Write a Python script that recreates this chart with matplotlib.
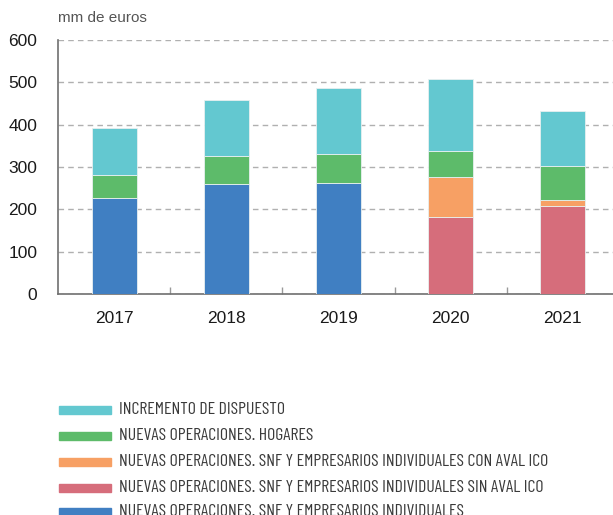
import matplotlib
matplotlib.use('Agg')
import matplotlib.pyplot as plt
from matplotlib.patches import Rectangle
from matplotlib import font_manager

years = ['2017', '2018', '2019', '2020', '2021']

# mm de euros
snf_total = [226, 260, 262, 0, 0]        # nuevas operaciones SNF (sin desglose)
snf_sin_ico = [0, 0, 0, 183, 207]
snf_con_ico = [0, 0, 0, 93, 14]
hogares = [54, 65, 69, 61, 81]
dispuesto = [111, 134, 156, 171, 131]

labels = [
    'INCREMENTO DE DISPUESTO',
    'NUEVAS OPERACIONES. HOGARES',
    'NUEVAS OPERACIONES. SNF Y EMPRESARIOS INDIVIDUALES CON AVAL ICO',
    'NUEVAS OPERACIONES. SNF Y EMPRESARIOS INDIVIDUALES SIN AVAL ICO',
    'NUEVAS OPERACIONES. SNF Y EMPRESARIOS INDIVIDUALES',
]
colors = ['#63C8D0', '#5DBB6A', '#F7A064', '#D66D7B', '#407FC2']

names = {f.name for f in font_manager.fontManager.ttflist}
main_font = 'Liberation Sans' if 'Liberation Sans' in names else 'DejaVu Sans'
narrow_font = 'Barlow Condensed' if 'Barlow Condensed' in names else main_font

fig = plt.figure(figsize=(6.13, 5.15), dpi=100)
ax = fig.add_axes([58 / 613, 1 - 294 / 515, 561 / 613, 254 / 515])

x = list(range(len(years)))
w = 0.4
stack = [snf_total, snf_sin_ico, snf_con_ico, hogares, dispuesto]
stack_colors = [colors[4], colors[3], colors[2], colors[1], colors[0]]
bottom = [0] * len(years)
for vals, c in zip(stack, stack_colors):
    ax.bar(x, vals, w, bottom=bottom, color=c, edgecolor='#e8f0f0',
           linewidth=0.6, zorder=3)
    bottom = [b + v for b, v in zip(bottom, vals)]

ax.set_xlim(-0.5, len(years) - 0.5)
ax.set_ylim(0, 600)
ax.set_yticks(range(0, 601, 100))
ax.set_xticks(x)
ax.set_xticklabels(years)
ax.set_xticks([i + 0.5 for i in x[:-1]], minor=True)
ax.tick_params(axis='x', which='major', length=0, pad=12, labelsize=12.5,
               labelcolor='#1a1a1a')
ax.tick_params(axis='x', which='minor', direction='in', length=5,
               color='#999999', width=1)
ax.tick_params(axis='y', length=0, pad=15, labelsize=12.5, labelcolor='#1a1a1a')
for t in ax.get_xticklabels() + ax.get_yticklabels():
    t.set_fontfamily(main_font)

ax.grid(axis='y', linestyle=(0, (4, 3)), color='#b0b0b0', linewidth=1, zorder=0)
for s in ['top', 'right']:
    ax.spines[s].set_visible(False)
for s in ['left', 'bottom']:
    ax.spines[s].set_color('#707070')
    ax.spines[s].set_linewidth(1.2)

fig.text(58 / 613, 1 - 18 / 515, 'mm de euros', fontsize=11, color='#555555',
         family=main_font, va='center', ha='left')

# legend drawn by hand below the plot
rows_y = [409, 435, 461, 487, 511]
for lab, c, ry in zip(labels, colors, rows_y):
    fig.patches.append(Rectangle((59 / 613, 1 - (ry + 5) / 515), 52 / 613, 8 / 515,
                                 transform=fig.transFigure, color=c))
    fig.text(119 / 613, 1 - ry / 515, lab, fontsize=12.8, color='#3a3a3a',
             family=narrow_font, va='center', ha='left')

fig.savefig('out.png', dpi=100)
